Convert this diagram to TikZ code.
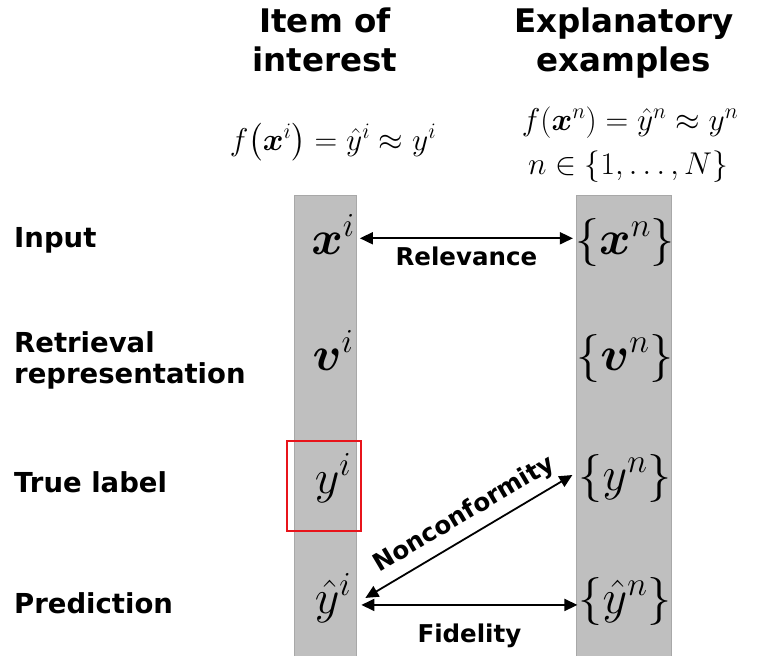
\RequirePackage{fix-cm}
\documentclass[tikz,border=0pt]{standalone}
\usepackage{amsmath,amssymb,bm}
\usepackage{fontspec}
\setmainfont{DejaVu Sans}
\usetikzlibrary{arrows.meta,calc}
\definecolor{bargray}{HTML}{BFBFBF}
\definecolor{barline}{HTML}{A8A8A8}
\definecolor{boxred}{HTML}{E8141B}
\begin{document}
\begin{tikzpicture}[x=1pt,y=-1pt,
  head/.style={font=\fontsize{32.5}{39}\selectfont\bfseries, align=center, inner sep=0pt, anchor=base},
  rowlab/.style={font=\fontsize{27.5}{31}\selectfont\bfseries, align=left, inner sep=0pt, anchor=base west},
  formula/.style={font=\fontsize{31.5}{38}\selectfont, inner sep=0pt, anchor=base},
  item/.style={font=\fontsize{48}{56}\selectfont, inner sep=0pt, anchor=base},
  edgelab/.style={font=\fontsize{24.5}{28}\selectfont\bfseries, inner sep=0pt},
  arr/.style={line width=1.8pt, {Triangle[length=13pt,width=12pt]}-{Triangle[length=13pt,width=12pt]}},
  bar/.style={fill=bargray, draw=barline, line width=0.8pt}
]
\useasboundingbox (0,0) rectangle (758,656);
% columns
\path[bar] (294,195) rectangle (356,657);
\path[bar] (576,195) rectangle (671,657);
% headers
\node[head] (h1) at (325,71) {Item of\\interest};
\node[head] (h2) at (624,71) {Explanatory\\examples};
% formulas
\node[formula] (f1) at (333,150) {$f\bigl(\bm{x}^i\bigr)=\hat{y}^i\approx y^i$};
\node[formula] (f2) at (630,130) {$f(\bm{x}^n)=\hat{y}^n\approx y^n$};
\node[formula] (f3) at (628,174) {$n\in\{1,\ldots,N\}$};
% row labels
\node[rowlab] (l1) at (14,247) {Input};
\node[rowlab] (l2) at (14,383) {Retrieval\\representation};
\node[rowlab] (l3) at (14,492) {True label};
\node[rowlab] (l4) at (14,613) {Prediction};
% items
\node[item] (xi) at (333,254) {$\bm{x}^i$};
\node[item] (xn) at (625,254) {$\{\bm{x}^n\}$};
\node[item] (vi) at (333,370) {$\bm{v}^i$};
\node[item] (vn) at (625,370) {$\{\bm{v}^n\}$};
\node[item] (yi) at (333,493) {$y^i$};
\node[item] (yn) at (625,490) {$\{y^n\}$};
\node[item] (yhi) at (333,613) {$\hat{y}^i$};
\node[item] (yhn) at (625,613) {$\{\hat{y}^n\}$};
% red box
\draw[boxred, line width=1.6pt] (287,441) rectangle (361,531);
% arrows
\draw[arr] ($(xi.east)+(5,4)$) -- node[edgelab, below=8pt] {Relevance} ($(xi.east -| xn.west)+(-2,4)$);
\draw[arr] ($(yhi.east)+(10,7)$) -- node[edgelab, below=18pt] {Fidelity} ($(yhi.east -| yhn.west)+(-1,7)$);
\draw[arr] ($(yhi.east)+(14,0)$) -- node[edgelab, sloped, above=8pt, pos=0.53] {Nonconformity} ($(yn.west)+(-6,-3)$);
\end{tikzpicture}
\end{document}
